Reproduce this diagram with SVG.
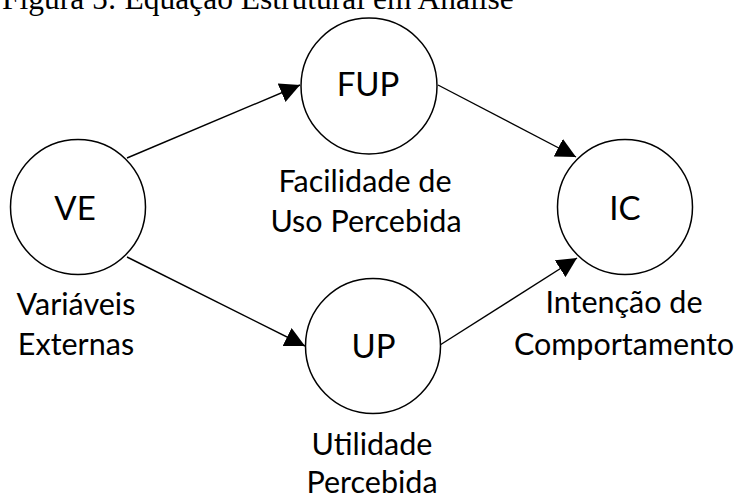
<svg xmlns="http://www.w3.org/2000/svg" width="738" height="495" viewBox="0 0 738 495">
<style>
.node circle{fill:#fff;stroke:#000;stroke-width:1.5}
.abbr{font-family:Lato,"Open Sans",sans-serif;font-size:33px;text-anchor:middle;fill:#000}
.lbl{font-family:Lato,"Open Sans",sans-serif;font-size:30.5px;text-anchor:middle;fill:#000}
.title{font-family:"Liberation Serif",serif;font-size:31.5px;fill:#000}
.edge{stroke:#000;stroke-width:1.4;fill:none;marker-end:url(#arr)}
</style>
<defs>
<marker id="arr" markerUnits="userSpaceOnUse" markerWidth="20" markerHeight="20" refX="18" refY="9" orient="auto" viewBox="0 0 18 18">
<path d="M0,0 L18,9 L0,18 z" fill="#000"/>
</marker>
</defs>
<text class="title" x="2" y="8.5">Figura 5: Equação Estrutural em Análise</text>
<g id="connectors">
<line class="edge" x1="127" y1="158" x2="300" y2="85"/>
<line class="edge" x1="127" y1="257" x2="305" y2="346"/>
<line class="edge" x1="438" y1="85" x2="576" y2="157"/>
<line class="edge" x1="440" y1="345" x2="577" y2="258"/>
</g>
<g id="VE" class="node">
<circle cx="78" cy="207" r="67.5"/>
<text class="abbr" x="75" y="220">VE</text>
<text class="lbl" x="76" y="315">Variáveis</text>
<text class="lbl" x="76" y="355">Externas</text>
</g>
<g id="FUP" class="node">
<circle cx="369" cy="86" r="68"/>
<text class="abbr" x="368" y="96">FUP</text>
<text class="lbl" x="365" y="192">Facilidade de</text>
<text class="lbl" x="366" y="232">Uso Percebida</text>
</g>
<g id="UP" class="node">
<circle cx="373" cy="346" r="67.5"/>
<text class="abbr" x="373.5" y="358">UP</text>
<text class="lbl" x="372" y="455">Utilidade</text>
<text class="lbl" x="372" y="493">Percebida</text>
</g>
<g id="IC" class="node">
<circle cx="625" cy="207" r="67.5"/>
<text class="abbr" x="625" y="220">IC</text>
<text class="lbl" x="624" y="313">Intenção de</text>
<text class="lbl" x="624" y="355">Comportamento</text>
</g>
</svg>
